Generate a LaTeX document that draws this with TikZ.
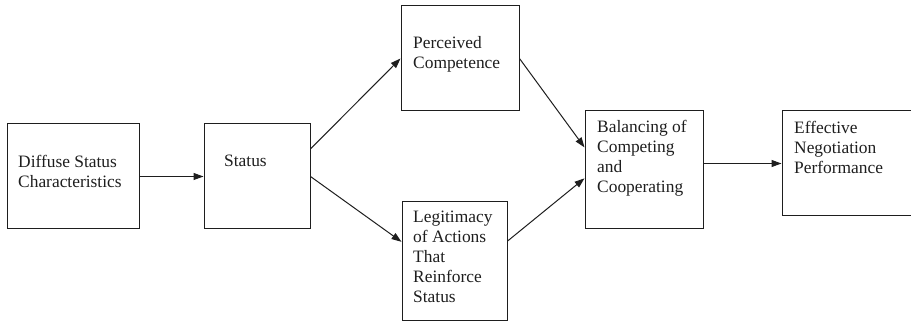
\documentclass[tikz,border=0pt]{standalone}
\usepackage{fontspec}
\setmainfont{Liberation Serif}
\usetikzlibrary{arrows.meta,calc}
\definecolor{ink}{HTML}{1E1E1E}
\begin{document}
\begin{tikzpicture}[x=1pt,y=-1pt,
  box/.style={draw=ink,line width=1pt,rectangle,inner sep=0pt},
  label/.style={anchor=north west,inner sep=0pt,align=left,text=ink,
    font=\fontsize{17.4}{20}\selectfont},
  link/.style={draw=ink,line width=1pt,-{Triangle[length=10pt,width=7pt]}}]
\useasboundingbox (0,0) rectangle (911,323);
\clip (0,0) rectangle (911,323);

% boxes
\node[box,minimum width=132pt,minimum height=105pt] (b1) at (73,176.5) {};
\node[box,minimum width=106pt,minimum height=105pt] (b2) at (257,176.5) {};
\node[box,minimum width=118pt,minimum height=105pt] (b3) at (460,58.5) {};
\node[box,minimum width=105pt,minimum height=119pt] (b4) at (454.5,261.5) {};
\node[box,minimum width=118pt,minimum height=118pt] (b5) at (644,170) {};
\node[box,minimum width=138pt,minimum height=105pt] (b6) at (851,163.5) {};

% box texts
\node[label] (t1) at (18,155) {Diffuse Status\\Characteristics};
\node[label] (t2) at (224,155) {Status};
\node[label] (t3) at (413,36) {Perceived\\Competence};
\node[label] (t4) at (413,211) {Legitimacy\\of Actions\\That\\Reinforce\\Status};
\node[label] (t5) at (597,120) {Balancing of\\Competing\\and\\Cooperating};
\node[label] (t6) at (794,121) {Effective\\Negotiation\\Performance};

% connectors
\draw[link] (b1) -- (b2);
\draw[link] ($(b2.north east)!0.24!(b2.south east)$) -- (b3.west);
\draw[link] (b2.east) -- ($(b4.north west)!0.336!(b4.south west)$);
\draw[link] (b3.east) -- ($(b5.north west)!0.31!(b5.south west)$);
\draw[link] ($(b4.north east)!0.33!(b4.south east)$) -- ($(b5.north west)!0.57!(b5.south west)$);
\draw[link] (b5.east |- b6.west) -- (b6.west);
\end{tikzpicture}
\end{document}
